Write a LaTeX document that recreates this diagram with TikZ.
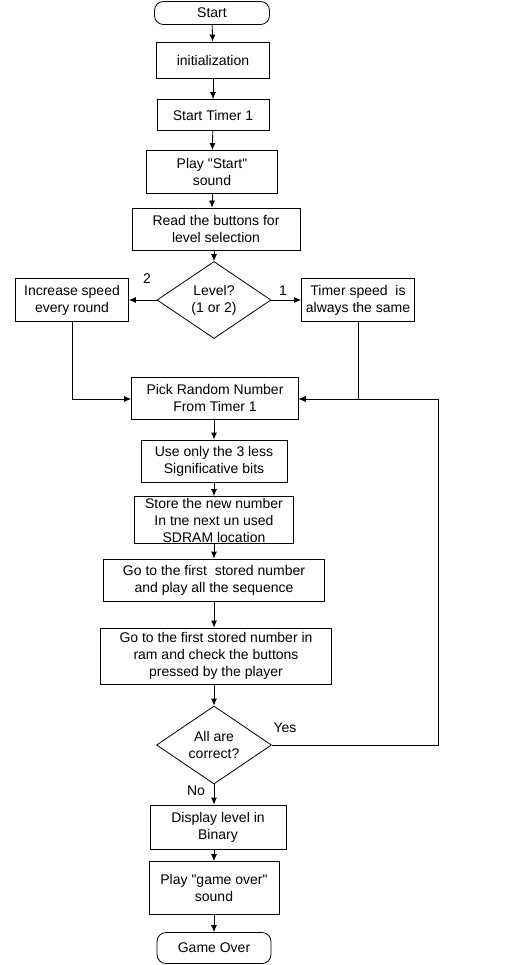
\documentclass[tikz,border=0pt]{standalone}
\usepackage{fontspec}
\setmainfont{Liberation Sans}
\usetikzlibrary{shapes.geometric,arrows.meta}
\begin{document}
\begin{tikzpicture}[x=1pt,y=-1pt,
  every node/.style={font=\fontsize{14}{17}\selectfont},
  box/.style={draw,line width=0.8pt,align=center,inner sep=0pt},
  term/.style={draw,line width=0.8pt,rounded corners=9pt,inner sep=0pt},
  dia/.style={draw,line width=0.8pt,diamond,inner sep=0pt,align=center},
  arr/.style={line width=0.8pt,-{Latex[length=7pt,width=6pt]}},
  ln/.style={line width=0.8pt},
  lbl/.style={inner sep=0pt}]
\useasboundingbox (0,0) rectangle (515,965);
\node[term,minimum width=115pt,minimum height=23pt] (start) at (212,13) {Start};
\node[box,minimum width=113pt,minimum height=36pt] (init) at (213,60) {initialization};
\node[box,minimum width=112pt,minimum height=31pt] (timer) at (213,115) {Start Timer 1};
\node[box,minimum width=131pt,minimum height=43pt] (play) at (212,172) {Play \textquotedbl Start\textquotedbl\\sound};
\node[box,minimum width=168pt,minimum height=42pt] (read) at (216,229) {Read the buttons for\\level selection};
\node[dia,minimum width=114pt,minimum height=77pt,aspect=1.48] (level) at (214,300) {Level?\\(1 or 2)};
\node[box,minimum width=113pt,minimum height=43pt] (inc) at (72,300) {Increase speed\\every round};
\node[box,minimum width=113pt,minimum height=43pt] (same) at (358,300) {Timer speed \ is\\always the same};
\node[box,minimum width=167pt,minimum height=42pt] (pick) at (215,398) {Pick Random Number\\From Timer 1};
\node[box,minimum width=146pt,minimum height=42pt] (use) at (214,461) {Use only the 3 less\\Significative bits};
\node[box,minimum width=159pt,minimum height=47pt] (store) at (214,520) {Store the new number\\In tne next un used\\SDRAM location};
\node[box,minimum width=221pt,minimum height=42pt] (go1) at (214,580) {Go to the first \ stored number\\and play all the sequence};
\node[box,minimum width=231pt,minimum height=56pt] (go2) at (216,656) {Go to the first stored number in\\ram and check the buttons\\pressed by the player};
\node[dia,minimum width=115pt,minimum height=78pt,aspect=1.47] (ok) at (214,745) {All are\\correct?};
\node[box,minimum width=136pt,minimum height=44pt] (disp) at (218,827) {Display level in\\Binary};
\node[box,minimum width=130pt,minimum height=53pt] (over) at (214,888) {Play \textquotedbl game over\textquotedbl\\sound};
\node[term,minimum width=114pt,minimum height=31pt] (end) at (214,948) {Game Over};
\node[lbl] (l2) at (147,279) {2};
\node[lbl] (l1) at (283,291) {1};
\node[lbl] (lyes) at (285,728) {Yes};
\node[lbl] (lno) at (196,791) {No};
\coordinate (cl) at (72,399);
\coordinate (cr) at (358,399);
\coordinate (lr) at (438,745);
\coordinate (lt) at (438,399);
\draw[arr] (start) -- (init);
\draw[arr] (init) -- (timer);
\draw[arr] (timer) -- (play);
\draw[arr] (play) -- (read.north -| play);
\draw[arr] (read.south -| level) -- (level);
\draw[arr] (level) -- (inc);
\draw[arr] (level) -- (same);
\draw[arr] (inc.south) |- (cl) -- (pick.west |- cl);
\draw[arr] (same.south) -- (cr) -- (pick.east |- cr);
\draw[arr] (ok.east) -- (lr) -- (lt) -- (pick.east |- lt);
\draw[arr] (pick.south -| use) -- (use);
\draw[arr] (use) -- (store);
\draw[arr] (store) -- (go1);
\draw[arr] (go1) -- (go2.north -| go1);
\draw[arr] (go2.south -| ok) -- (ok);
\draw[arr] (ok) -- (disp.north -| ok);
\draw[arr] (disp.south -| over) -- (over);
\draw[arr] (over) -- (end);
\end{tikzpicture}
\end{document}
